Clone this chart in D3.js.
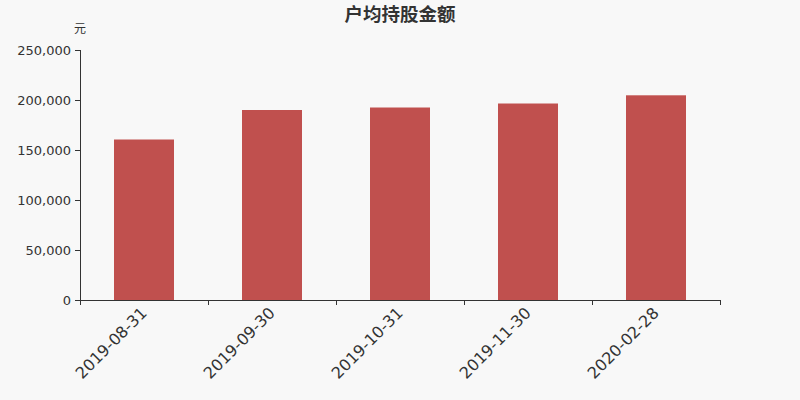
<!DOCTYPE html>
<html>
<head>
<meta charset="utf-8">
<script src="https://d3js.org/d3.v7.min.js"></script>
<style>
  body { margin: 0; background: #f8f8f8; }
  svg { display: block; }
</style>
</head>
<body>
<svg width="800" height="400"></svg>
<script>
// chart data
var dates = ["2019-08-31", "2019-09-30", "2019-10-31", "2019-11-30", "2020-02-28"];
var amounts = [160500, 190000, 192500, 196500, 204700];
var yTicks = [0, 50000, 100000, 150000, 200000, 250000];

var svg = d3.select("svg");
var margin = {top: 50, right: 80, bottom: 100, left: 80};
var width = +svg.attr("width") - margin.left - margin.right;
var height = +svg.attr("height") - margin.top - margin.bottom;

svg.append("rect").attr("width", 800).attr("height", 400).attr("fill", "#f8f8f8");

//title
svg.append("text")
    .attr("x", 400)
    .attr("y", 21)
    .attr("text-anchor", "middle")
    .attr("font-family", "'Noto Sans CJK SC', sans-serif")
    .attr("font-size", 18.5)
    .attr("font-weight", "bold")
    .attr("fill", "#333")
    .text("户均持股金额");

var g = svg.append("g").attr("transform", "translate(" + margin.left + "," + margin.top + ")");

var x = d3.scaleBand().domain(dates).range([0, width]);
var y = d3.scaleLinear().domain([0, 250000]).range([height, 0]);

//bars
g.selectAll(".bar")
  .data(amounts)
  .enter().append("rect")
    .attr("class", "bar")
    .attr("x", function(d, i) { return x(dates[i]) + x.bandwidth() / 2 - 30; })
    .attr("y", function(d) { return y(d); })
    .attr("width", 60)
    .attr("height", function(d) { return height - y(d); })
    .attr("fill", "#c0504e");

//y axis
var yAxis = g.append("g")
    .call(d3.axisLeft(y).tickValues(yTicks).tickSize(5).tickPadding(4).tickFormat(d3.format(",")));
yAxis.selectAll("text")
    .attr("font-family", "'DejaVu Sans', sans-serif")
    .attr("font-size", 13)
    .attr("fill", "#333");
yAxis.selectAll("line, path").attr("stroke", "#333");
yAxis.select(".domain").attr("d", "M0.5," + height + "V0");

//unit label
g.append("text")
    .attr("x", 0)
    .attr("y", -17)
    .attr("text-anchor", "middle")
    .attr("font-family", "'Noto Sans CJK SC', sans-serif")
    .attr("font-size", 12)
    .attr("fill", "#333")
    .text("元");

//x axis with ticks at band boundaries
var xAxis = g.append("g").attr("transform", "translate(0," + height + ")");
xAxis.append("path")
    .attr("d", "M0," + 0.5 + "H" + width)
    .attr("stroke", "#333");
xAxis.selectAll(".tick")
  .data(d3.range(dates.length + 1))
  .enter().append("line")
    .attr("x1", function(i) { return i * x.step() + 0.5; })
    .attr("x2", function(i) { return i * x.step() + 0.5; })
    .attr("y1", 0)
    .attr("y2", 5)
    .attr("stroke", "#333");
xAxis.selectAll(".lbl")
  .data(dates)
  .enter().append("text")
    .attr("transform", function(d) {
      return "translate(" + (x(d) + x.bandwidth() / 2 + 4) + ",14) rotate(-45)";
    })
    .attr("text-anchor", "end")
    .attr("font-family", "'DejaVu Sans', sans-serif")
    .attr("font-size", 16)
    .attr("fill", "#333")
    .text(function(d) { return d; });
</script>
</body>
</html>
